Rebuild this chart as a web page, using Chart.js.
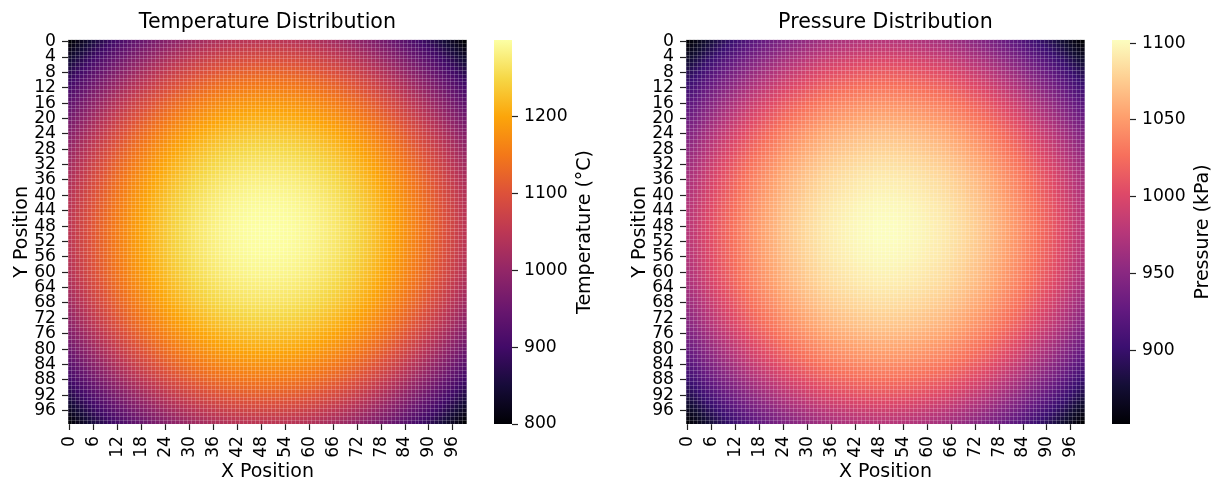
<!DOCTYPE html>
<html><head><meta charset="utf-8">
<script src="https://cdn.jsdelivr.net/npm/chart.js@4.4.0/dist/chart.umd.min.js"></script>
<style>
html,body{margin:0;padding:0;background:#fff;}
body{width:1213px;height:482px;position:relative;overflow:hidden;}
canvas{position:absolute;top:0;}
</style></head><body>
<canvas id="tempMap" width="480" height="482" style="left:0px"></canvas>
<canvas id="tempBar" width="130" height="482" style="left:480px"></canvas>
<canvas id="pressMap" width="480" height="482" style="left:618px"></canvas>
<canvas id="pressBar" width="115" height="482" style="left:1098px"></canvas>
<script>
// ---- data ----
const xCategories = Array.from({length: 100}, (_, i) => String(i));
const yCategories = Array.from({length: 100}, (_, i) => String(i));
const xTickLabels = ['0','6','12','18','24','30','36','42','48','54','60','66','72','78','84','90','96'];
const yTickLabels = ['0','4','8','12','16','20','24','28','32','36','40','44','48','52','56','60','64','68','72','76','80','84','88','92','96'];

// Temperature (°C): peak value at the centre and drop-off read along each axis
const tempPeak = 1300;
const tempAxisDrop = [250,240,230,221,211,202,193,184,176,167,159,151,143,136,129,121,114,108,101,95,89,83,77,72,66,61,56,52,47,43,39,35,31,28,25,21,19,16,13,11,9,7,6,4,3,2,1,1,0,0,
                      0,0,1,1,2,3,4,6,7,9,11,13,16,19,21,25,28,31,35,39,43,47,52,56,61,66,72,77,83,89,95,101,108,114,121,129,136,143,151,159,167,176,184,193,202,211,221,230,240,250];
const tempColorbarTicks = [800, 900, 1000, 1100, 1200];

// Pressure (kPa)
const pressPeak = 1102;
const pressAxisDrop = [125,120,116,111,106,101,97,92,88,84,80,76,72,68,65,61,57,54,51,48,45,42,39,36,33,31,28,26,24,22,19,18,16,14,12,11,9,8,7,6,5,4,3,2,2,1,1,0,0,0,
                       0,0,0,1,1,2,2,3,4,5,6,7,8,9,11,12,14,16,18,19,22,24,26,28,31,33,36,39,42,45,48,51,54,57,61,65,68,72,76,80,84,88,92,97,101,106,111,116,120,125];
const pressColorbarTicks = [900, 950, 1000, 1050, 1100];

// colormaps (matplotlib inferno / magma)
const inferno = ['#000004','#160b39','#420a68','#6a176e','#932667','#bc3754','#dd513a','#f37819','#fca50a','#f6d746','#fcffa4'];
const magma   = ['#000004','#140e36','#3b0f70','#641a80','#8c2981','#b73779','#de4968','#f7705c','#fe9f6d','#fecf92','#fcfdbf'];

const F = '"DejaVu Sans", "Liberation Sans", sans-serif';
const TICK_SIZE = 17.2;
const LABEL_SIZE = 19;
const TITLE_SIZE = 20.6;
const CELL_LINE = 'rgba(255,255,255,0.2)';

function hex(h){ return [parseInt(h.slice(1,3),16), parseInt(h.slice(3,5),16), parseInt(h.slice(5,7),16)]; }
function cmap(stops, t){
  t = Math.max(0, Math.min(1, t));
  const n = stops.length - 1, f = t * n, k = Math.min(n - 1, Math.floor(f)), u = f - k;
  const a = hex(stops[k]), b = hex(stops[k+1]);
  return 'rgb(' + a.map((v, c) => Math.round(v + (b[c] - v) * u)).join(',') + ')';
}

function buildMatrix(peak, drop){
  return yCategories.map((_, j) => xCategories.map((_, i) => peak - drop[i] - drop[j]));
}

function heatmap(id, title, matrix, stops){
  const flat = matrix.flat();
  const vmin = Math.min(...flat), vmax = Math.max(...flat);
  const datasets = matrix.map((row, j) => ({
    data: row.map(() => [j, j + 1]),
    backgroundColor: row.map(v => cmap(stops, (v - vmin) / (vmax - vmin))),
    borderWidth: 0, barPercentage: 1, categoryPercentage: 1, grouped: false,
    xAxisID: 'x', yAxisID: 'y'
  }));
  const tickFont = {family: F, size: TICK_SIZE};
  new Chart(document.getElementById(id), {
    type: 'bar',
    data: {labels: xCategories, datasets},
    options: {
      responsive: false, animation: false, events: [],
      layout: {padding: {left: 0, right: 12, top: 0, bottom: 0}},
      plugins: {
        legend: {display: false}, tooltip: {enabled: false},
        title: {display: true, text: title, fullSize: false, color: '#000',
                font: {family: F, size: TITLE_SIZE, weight: 'normal', lineHeight: 1.2}, padding: {top: 10, bottom: 5}}
      },
      scales: {
        x: {
          type: 'category', offset: true,
          grid: {display: true, drawOnChartArea: false, drawTicks: true, tickLength: 6, tickColor: '#222', tickWidth: 1.2, offset: false},
          border: {display: false},
          ticks: {autoSkip: false, minRotation: 90, maxRotation: 90, padding: 6, color: '#000', font: tickFont,
                  callback: function(v){ const l = this.getLabelForValue(v); return xTickLabels.includes(l) ? l : null; }},
          title: {display: true, text: 'X Position', color: '#000', font: {family: F, size: LABEL_SIZE, lineHeight: 1.0}, padding: 0},
          afterFit: s => { s.height = 58; }
        },
        y: {
          type: 'linear', min: 0, max: 100, reverse: true, position: 'left',
          grid: {display: true, drawOnChartArea: false, drawTicks: true, tickLength: 6, tickColor: '#222', tickWidth: 1.2},
          border: {display: false},
          afterBuildTicks: s => { s.ticks = yTickLabels.map(l => ({value: Number(l) + 0.5})); },
          ticks: {autoSkip: false, padding: 6, color: '#000', font: tickFont, callback: v => String(v - 0.5)},
          title: {display: true, text: 'Y Position', color: '#000', font: {family: F, size: LABEL_SIZE, lineHeight: 1.2}, padding: {top: 11, bottom: 0}},
          afterFit: s => { s.width = 68; }
        },
        xg: {
          type: 'category', position: 'top', offset: true,
          grid: {offset: true, color: CELL_LINE, lineWidth: 1, drawTicks: false, z: 1},
          border: {display: false}, ticks: {display: false, autoSkip: false},
          afterFit: s => { s.height = 0; }
        },
        yg: {
          type: 'linear', position: 'right', min: 0, max: 100, reverse: true,
          grid: {color: CELL_LINE, lineWidth: 1, drawTicks: false, z: 1},
          border: {display: false}, ticks: {display: false, stepSize: 1, maxTicksLimit: 200},
          afterFit: s => { s.width = 0; }
        }
      }
    }
  });
  return {vmin, vmax};
}

const cbLabelPlugin = {
  id: 'cbLabel',
  afterDraw(chart, args, opts){
    const ctx = chart.ctx, a = chart.chartArea;
    ctx.save();
    ctx.font = LABEL_SIZE + 'px ' + F;
    ctx.fillStyle = '#000'; ctx.textAlign = 'center'; ctx.textBaseline = 'middle';
    ctx.translate(opts.x, (a.top + a.bottom) / 2);
    ctx.rotate(-Math.PI / 2);
    ctx.fillText(opts.text, 0, 0);
    ctx.restore();
  }
};

function colorbar(id, label, range, stops, tickValues, canvasWidth){
  const {vmin, vmax} = range;
  new Chart(document.getElementById(id), {
    type: 'bar',
    data: {labels: [''], datasets: [{
      data: [[vmin, vmax]], borderWidth: 0, barPercentage: 1, categoryPercentage: 1,
      backgroundColor: ctx => {
        const chart = ctx.chart, y = chart.scales.y;
        if (!y || !chart.chartArea) return stops[5];
        const g = chart.ctx.createLinearGradient(0, y.getPixelForValue(vmin), 0, y.getPixelForValue(vmax));
        stops.forEach((c, k) => g.addColorStop(k / (stops.length - 1), c));
        return g;
      }
    }]},
    options: {
      responsive: false, animation: false, events: [],
      layout: {padding: {left: 14, top: 40, bottom: 58, right: 0}},
      plugins: {legend: {display: false}, tooltip: {enabled: false}, cbLabel: {text: label, x: 105}},
      scales: {
        x: {display: false},
        y: {
          position: 'right', min: vmin, max: vmax,
          grid: {display: true, drawOnChartArea: false, drawTicks: true, tickLength: 6, tickColor: '#222', tickWidth: 1.2},
          border: {display: false},
          afterBuildTicks: s => { s.ticks = tickValues.map(v => ({value: v})); },
          ticks: {autoSkip: false, padding: 6, color: '#000', font: {family: F, size: TICK_SIZE}, callback: v => String(v)},
          afterFit: s => { s.width = canvasWidth - 32; }
        }
      }
    },
    plugins: [cbLabelPlugin]
  });
}

const tRange = heatmap('tempMap', 'Temperature Distribution', buildMatrix(tempPeak, tempAxisDrop), inferno);
colorbar('tempBar', 'Temperature (°C)', tRange, inferno, tempColorbarTicks, 130);
const pRange = heatmap('pressMap', 'Pressure Distribution', buildMatrix(pressPeak, pressAxisDrop), magma);
colorbar('pressBar', 'Pressure (kPa)', pRange, magma, pressColorbarTicks, 115);
</script>
</body></html>
